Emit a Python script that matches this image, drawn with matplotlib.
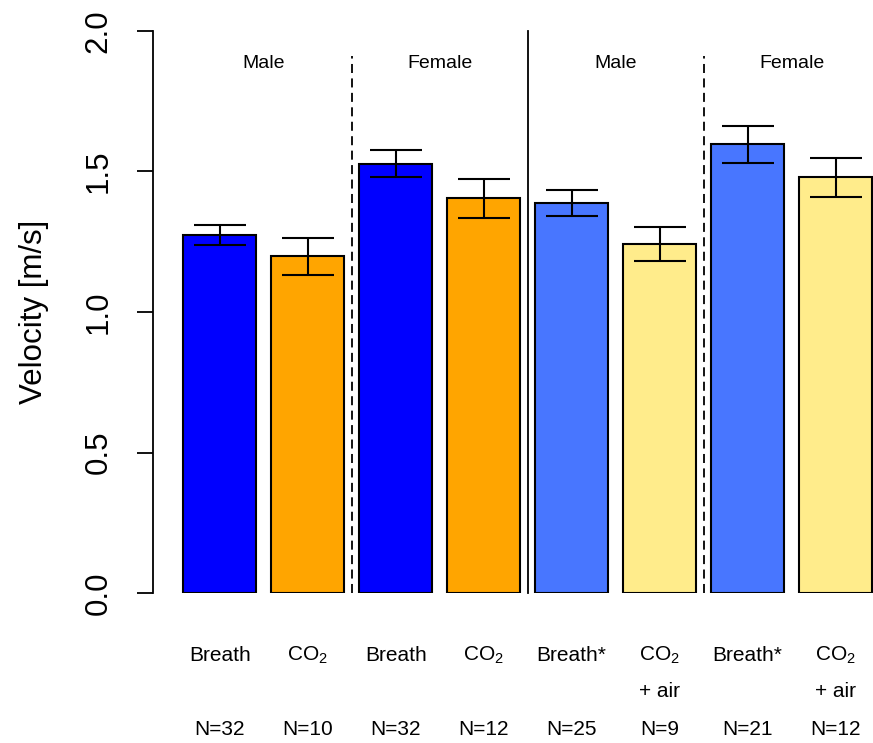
import numpy as np
import matplotlib
matplotlib.use("Agg")
import matplotlib.pyplot as plt

plt.rcParams['font.family'] = ['Liberation Sans', 'DejaVu Sans']
plt.rcParams['mathtext.fontset'] = 'custom'
plt.rcParams['mathtext.rm'] = 'Liberation Sans'
plt.rcParams['mathtext.default'] = 'regular'

# data
treatments = ['Breath', r'CO$_2$', 'Breath', r'CO$_2$', 'Breath*', r'CO$_2$', 'Breath*', r'CO$_2$']
second_line = ['', '', '', '', '', '+ air', '', '+ air']
n_values = [32, 10, 32, 12, 25, 9, 21, 12]
means = [1.273, 1.198, 1.528, 1.404, 1.388, 1.243, 1.597, 1.479]
errors = [0.035, 0.066, 0.049, 0.069, 0.045, 0.060, 0.066, 0.069]
colors = ['#0000FF', '#FFA500', '#0000FF', '#FFA500',
          '#4876FF', '#FFEC8B', '#4876FF', '#FFEC8B']
groups = ['Male', 'Female', 'Male', 'Female']

# R barplot-like positions: width 1, space 0.2
x = 0.7 + 1.2 * np.arange(len(means))

fig = plt.figure(figsize=(8.73, 7.43), dpi=100)
ax = fig.add_axes([153 / 873, 150 / 743, 1 - 153 / 873, 562 / 743])

ax.bar(x, means, width=1.0, color=colors, edgecolor='black', linewidth=1.5, zorder=2)
ax.errorbar(x, means, yerr=errors, fmt='none', ecolor='black', elinewidth=1.5,
            capsize=19, capthick=1.5, zorder=3)

ax.set_xlim(-0.21, 9.61)
ax.set_ylim(0, 2.0)

# separators
for xs in [2.5, 7.3]:
    ax.plot([xs, xs], [0, 1.91], ls=(0, (5, 3)), color='black', lw=1.3, clip_on=False)
ax.plot([4.9, 4.9], [0, 2.0], color='black', lw=1.3, clip_on=False)

# group labels
for i, g in enumerate(groups):
    ax.text((x[2 * i] + x[2 * i + 1]) / 2, 1.886, g, ha='center', va='center', fontsize=14)

# bottom labels
for i in range(len(x)):
    ax.text(x[i], -0.221, treatments[i], ha='center', va='center', fontsize=15, clip_on=False)
    if second_line[i]:
        ax.text(x[i], -0.349, second_line[i], ha='center', va='center', fontsize=15, clip_on=False)
    ax.text(x[i], -0.4875, 'N=%d' % n_values[i], ha='center', va='center', fontsize=15, clip_on=False)

for s in ['top', 'right', 'bottom']:
    ax.spines[s].set_visible(False)
ax.spines['left'].set_linewidth(1.3)
ax.set_xticks([])
ax.set_yticks([0, 0.5, 1.0, 1.5, 2.0])
ax.set_yticklabels(['0.0', '0.5', '1.0', '1.5', '2.0'], rotation=90, va='center', fontsize=22.5)
ax.tick_params(axis='y', length=11.5, width=1.3, pad=17)
ax.set_ylabel('Velocity [m/s]', fontsize=22.5, labelpad=25)

fig.savefig('out.png', dpi=100)
